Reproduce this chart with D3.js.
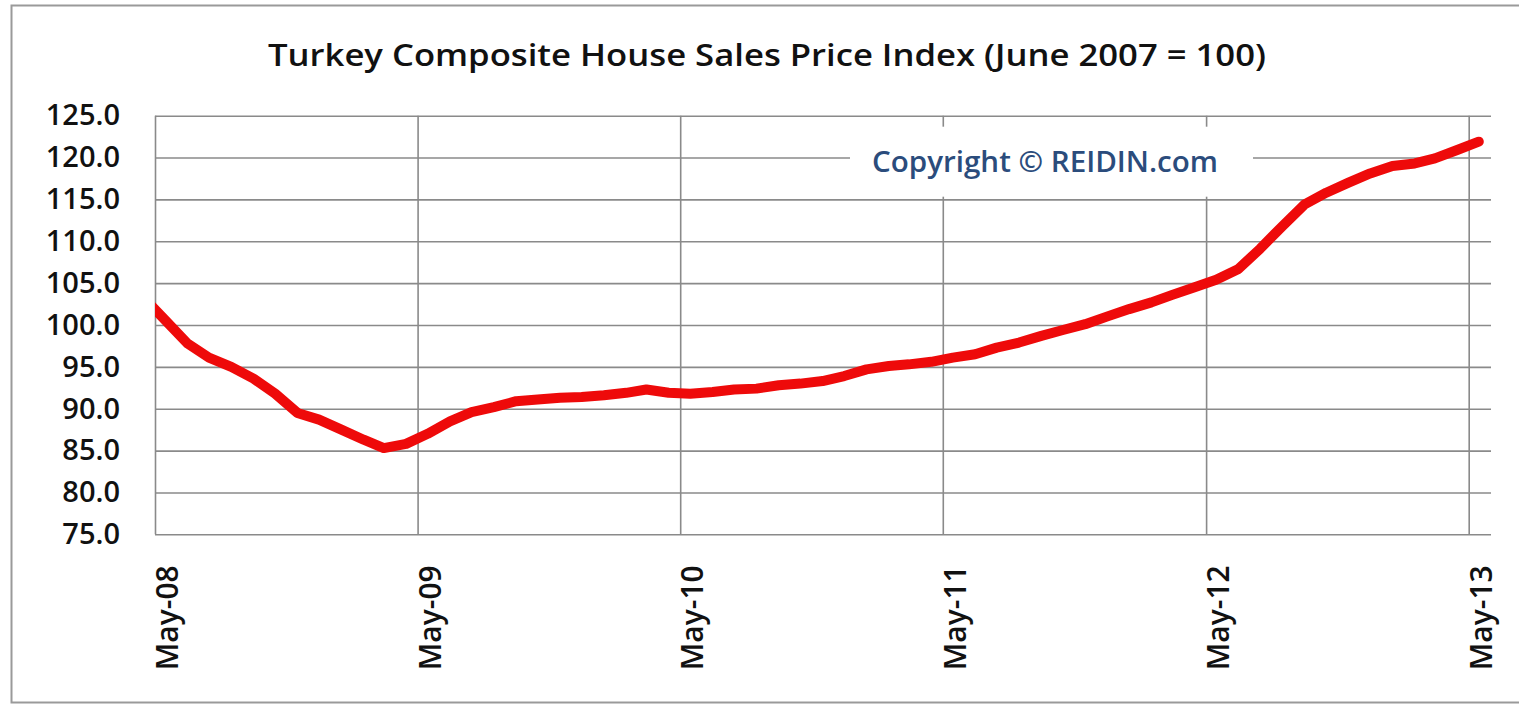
<!DOCTYPE html>
<html>
<head>
<meta charset="utf-8">
<script src="https://cdn.jsdelivr.net/npm/d3@7"></script>
<style>
  body { margin: 0; background: #fff; }
  text { font-family: "Open Sans", "Noto Sans", sans-serif; }
</style>
</head>
<body>
<div id="chart"></div>
<script>
// monthly index readings (mid-month), Apr-08 .. May-13
var months = [
  "2008-04", "2008-05", "2008-06", "2008-07", "2008-08", "2008-09", "2008-10", "2008-11", "2008-12",
  "2009-01", "2009-02", "2009-03", "2009-04", "2009-05", "2009-06", "2009-07", "2009-08", "2009-09",
  "2009-10", "2009-11", "2009-12", "2010-01", "2010-02", "2010-03", "2010-04", "2010-05", "2010-06",
  "2010-07", "2010-08", "2010-09", "2010-10", "2010-11", "2010-12", "2011-01", "2011-02", "2011-03",
  "2011-04", "2011-05", "2011-06", "2011-07", "2011-08", "2011-09", "2011-10", "2011-11", "2011-12",
  "2012-01", "2012-02", "2012-03", "2012-04", "2012-05", "2012-06", "2012-07", "2012-08", "2012-09",
  "2012-10", "2012-11", "2012-12", "2013-01", "2013-02", "2013-03", "2013-04", "2013-05"
];
var values = [
  103.3, 100.6, 97.8, 96.1, 95.0, 93.6, 91.8, 89.5, 88.7,
  87.5, 86.3, 85.3, 85.8, 87.0, 88.5, 89.6, 90.2, 90.9,
  91.1, 91.3, 91.4, 91.6, 91.9, 92.3, 91.9, 91.8, 92.0,
  92.3, 92.4, 92.8, 93.0, 93.3, 93.9, 94.7, 95.1, 95.3,
  95.6, 96.1, 96.5, 97.3, 97.9, 98.7, 99.4, 100.1, 101.0,
  101.9, 102.7, 103.6, 104.5, 105.4, 106.7, 109.1, 111.8, 114.4,
  115.8, 117.0, 118.1, 119.0, 119.3, 119.9, 120.9, 121.9
];
var yTicks = [75, 80, 85, 90, 95, 100, 105, 110, 115, 120, 125];
var xTickMonths = ["2008-05", "2009-05", "2010-05", "2011-05", "2012-05", "2013-05"];
var axisRange = ["2008-05", "2013-06"];

var titleText = "Turkey Composite House Sales Price Index (June 2007 = 100)";
var copyrightText = "Copyright \u00A9 REIDIN.com";

var svgWidth = 1519;
var svgHeight = 705;

var margin = { top: 115.7, bottom: 170.7, left: 155, right: 28 };
var width = svgWidth - margin.left - margin.right;
var height = svgHeight - margin.top - margin.bottom;

var parseMonth = d3.timeParse("%Y-%m");
var midMonth = d => d3.timeDay.offset(parseMonth(d), 14);

var data = months.map((m, i) => ({ date: midMonth(m), value: values[i] }));

var svg = d3.select("#chart")
  .append("svg")
  .attr("width", svgWidth)
  .attr("height", svgHeight);

// outer frame
svg.append("rect")
  .attr("x", 11.5).attr("y", 5.5)
  .attr("width", svgWidth).attr("height", 697)
  .attr("fill", "#fff")
  .attr("stroke", "#9a9a9a")
  .attr("stroke-width", 2);

svg.append("text")
  .attr("x", 767)
  .attr("y", 66)
  .attr("text-anchor", "middle")
  .attr("font-size", 31)
  .attr("font-weight", 600)
  .attr("fill", "#111")
  .attr("textLength", 998)
  .attr("lengthAdjust", "spacingAndGlyphs")
  .text(titleText);

var chartGroup = svg.append("g")
  .attr("transform", `translate(${margin.left}, ${margin.top})`);

var xScale = d3.scaleTime()
  .domain(axisRange.map(parseMonth))
  .range([0, width]);

var yScale = d3.scaleLinear()
  .domain([75, 125])
  .range([height, 0]);

// horizontal gridlines
chartGroup.append("g")
  .attr("class", "grid")
  .call(d3.axisLeft(yScale).tickValues(yTicks).tickSize(-width).tickFormat(""))
  .call(g => g.select(".domain").remove())
  .call(g => g.selectAll("line").attr("stroke", "#8a8a8a").attr("stroke-width", 1.6));

// vertical gridlines
chartGroup.append("g")
  .attr("class", "grid")
  .attr("transform", `translate(0, ${height})`)
  .call(d3.axisBottom(xScale).tickValues(xTickMonths.map(parseMonth)).tickSize(-height).tickFormat(""))
  .call(g => g.select(".domain").remove())
  .call(g => g.selectAll("line").attr("stroke", "#8a8a8a").attr("stroke-width", 1.6));

// copyright label with white backing
var cx = xScale(parseMonth("2011-01")) + 25;
chartGroup.append("rect")
  .attr("x", 695).attr("y", 11)
  .attr("width", 403).attr("height", 70)
  .attr("fill", "#fff");
chartGroup.append("text")
  .attr("x", 890)
  .attr("y", 56)
  .attr("text-anchor", "middle")
  .attr("font-size", 28)
  .attr("font-weight", 600)
  .attr("fill", "#2b4c7c")
  .attr("textLength", 346)
  .attr("lengthAdjust", "spacingAndGlyphs")
  .text(copyrightText);

// y axis labels
chartGroup.append("g")
  .call(d3.axisLeft(yScale).tickValues(yTicks).tickSize(0).tickPadding(35).tickFormat(d3.format(".1f")))
  .call(g => g.select(".domain").remove())
  .call(g => g.selectAll("text")
    .attr("font-size", 29)
    .attr("font-weight", 600)
    .attr("fill", "#111")
    .style("font-family", "'Open Sans', sans-serif"));

// x axis labels (rotated)
chartGroup.append("g")
  .attr("transform", `translate(0, ${height})`)
  .call(d3.axisBottom(xScale).tickValues(xTickMonths.map(parseMonth)).tickSize(0).tickFormat(d3.timeFormat("%b-%y")))
  .call(g => g.select(".domain").remove())
  .call(g => g.selectAll("text")
    .attr("transform", "rotate(-90)")
    .attr("text-anchor", "end")
    .attr("x", -31)
    .attr("y", 12)
    .attr("dy", "0.35em")
    .attr("font-size", 30)
    .attr("font-weight", 600)
    .attr("fill", "#111")
    .style("font-family", "'Open Sans', sans-serif"));

chartGroup.append("clipPath")
  .attr("id", "plot-clip")
  .append("rect")
  .attr("x", 0).attr("y", -10)
  .attr("width", width + 10).attr("height", height + 20);

var line = d3.line()
  .x(d => xScale(d.date))
  .y(d => yScale(d.value));

chartGroup.append("path")
  .datum(data)
  .attr("clip-path", "url(#plot-clip)")
  .attr("fill", "none")
  .attr("stroke", "#ee0a0a")
  .attr("stroke-width", 10)
  .attr("stroke-linejoin", "round")
  .attr("stroke-linecap", "round")
  .attr("d", line);
</script>
</body>
</html>
